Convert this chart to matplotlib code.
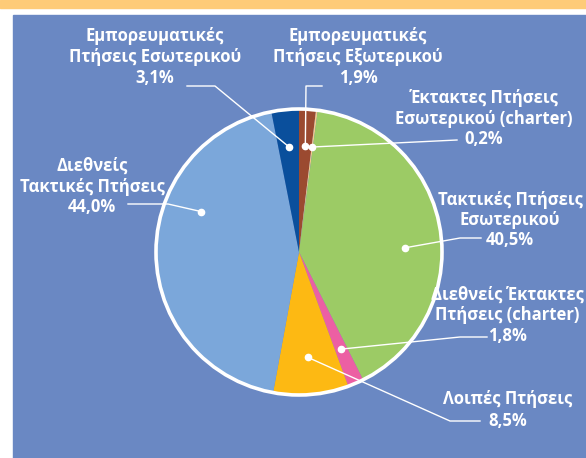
import numpy as np
import matplotlib
matplotlib.use("Agg")
import matplotlib.pyplot as plt
from matplotlib.patches import Rectangle, Circle

# data, clockwise from 12 o'clock
labels = [
    "Εμπορευματικές\nΠτήσεις Εξωτερικού",
    "Έκτακτες Πτήσεις\nΕσωτερικού (charter)",
    "Τακτικές Πτήσεις\nΕσωτερικού",
    "Διεθνείς Έκτακτες\nΠτήσεις (charter)",
    "Λοιπές Πτήσεις",
    "Διεθνείς\nΤακτικές Πτήσεις",
    "Εμπορευματικές\nΠτήσεις Εσωτερικού",
]
shares = [1.9, 0.2, 40.5, 1.8, 8.5, 44.0, 3.1]
colors = ["#9b4a30", "#f5c98c", "#9ccb65", "#ec5fa3", "#fdb913", "#7ba7da", "#0a4f9c"]

W, H = 586, 458
BG = "#6a88c3"
plt.rcParams['font.family'] = ['Open Sans', 'DejaVu Sans']

fig = plt.figure(figsize=(W / 100, H / 100), dpi=100)
ax = fig.add_axes([0, 0, 1, 1])


def Y(y):
    '''image row -> data y'''
    return H - y


# frame: yellow strip on top, blue panel
ax.add_patch(Rectangle((0, Y(7.5)), W, 7.5, color="#fecb78", zorder=0))
ax.add_patch(Rectangle((12.5, 0), W - 12.5, Y(14.5), color=BG, zorder=0))

cx, cy, R = 299, Y(252), 143
wedges, _ = ax.pie(shares, colors=colors, startangle=90, counterclock=False,
                   center=(cx, cy), radius=R, frame=True,
                   wedgeprops=dict(linewidth=0))
ax.add_patch(Circle((cx, cy), R, fill=False, ec="white", lw=2.6, zorder=3))
ax.set_xlim(0, W)
ax.set_ylim(0, H)
ax.set_aspect("auto")
ax.axis("off")

# layout per slice: anchor position inside wedge (fraction of angle span),
# elbow + end of the leader (image px), text centre x, text line y's
layout = [
    dict(frac=0.5, path=[(306, 86), (322, 86)], tx=358, ty=[36, 57, 78]),
    dict(frac=0.5, path=[(457, 140)], tx=484, ty=[98, 119, 139]),
    dict(frac=0.55, path=[(460, 238), (481, 238)], tx=510, ty=[200, 220, 240]),
    dict(frac=0.5, path=[(460, 337), (487, 337)], tx=507, ty=[295, 315, 336]),
    dict(frac=0.5, path=[(450, 421), (480, 421)], tx=508, ty=[399, 421]),
    dict(frac=0.644, path=[(168, 204), (128, 204)], tx=92, ty=[166, 187, 207]),
    dict(frac=0.5, path=[(215, 86), (187, 86)], tx=155, ty=[36, 57, 78]),
]

for w, lab, val, lay in zip(wedges, labels, shares, layout):
    t1, t2 = w.theta1, w.theta2
    ang = np.deg2rad(t2 - lay["frac"] * (t2 - t1))
    px = cx + 0.74 * R * np.cos(ang)
    py = cy + 0.74 * R * np.sin(ang)
    xs = [px] + [p[0] for p in lay["path"]]
    ys = [py] + [Y(p[1]) for p in lay["path"]]
    ax.plot(xs, ys, color="white", lw=1.0, zorder=4)
    ax.plot(px, py, "o", color="white", ms=4.5, zorder=5)
    lines = lab.split("\n") + [f"{val:.1f}%".replace(".", ",")]
    for s, yy in zip(lines, lay["ty"]):
        ax.text(lay["tx"], Y(yy), s, color="white", fontsize=12,
                fontweight="bold", ha="center", va="center", zorder=6)

fig.savefig("out.png", dpi=100, facecolor="white")
